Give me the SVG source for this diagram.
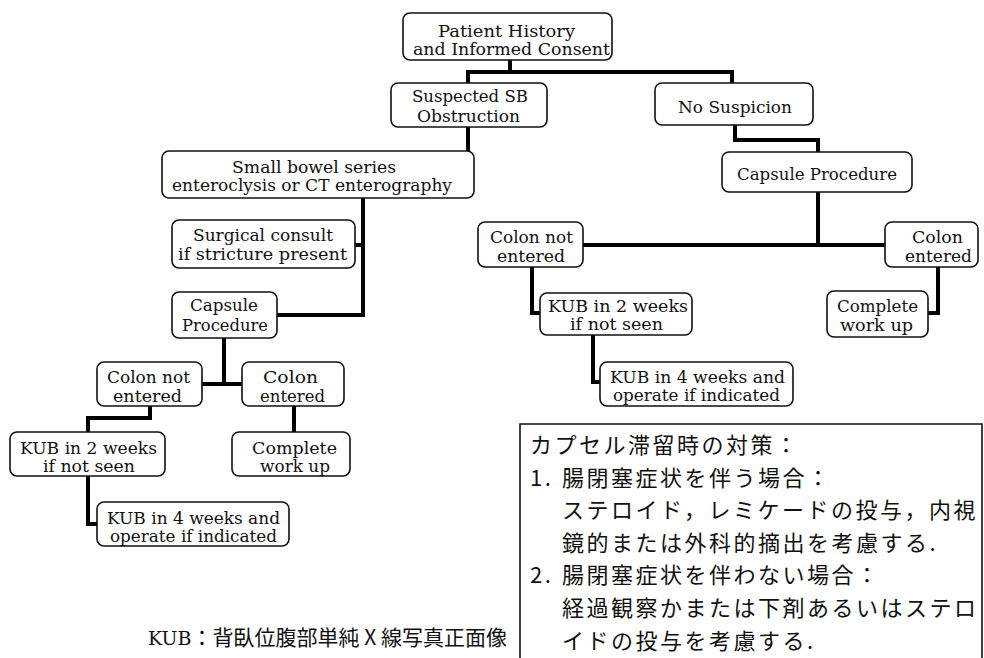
<svg xmlns="http://www.w3.org/2000/svg" width="984" height="658" viewBox="0 0 984 658">
<style>
.box{fill:#fff;stroke:#111;stroke-width:1.6}
.t{font-family:"DejaVu Serif","Liberation Serif",serif;font-size:17px;fill:#111;text-anchor:middle}
.conn{fill:none;stroke:#000;stroke-width:4;stroke-linejoin:miter;stroke-linecap:square}
.note{fill:none;stroke:#111;stroke-width:1.6}
.jp{font-family:"Noto Sans CJK JP","Noto Sans CJK SC",sans-serif;font-size:22px;letter-spacing:2.5px;fill:#111}
.kub{font-family:"Noto Sans CJK JP","Noto Sans CJK SC",sans-serif;font-size:21px;fill:#111}
</style>
<g id="connectors">
<path class="conn" d="M510,60 V72 M468,83 V72 H732 V83"/>
<path class="conn" d="M468,127 V151"/>
<path class="conn" d="M363,198 V315 H277 M355,245 H363"/>
<path class="conn" d="M735,125 V140 H818 V152"/>
<path class="conn" d="M818,192 V245 M583,245 H885"/>
<path class="conn" d="M532,267 V313 H540"/>
<path class="conn" d="M593,335 V382 H600"/>
<path class="conn" d="M938,267 V313 H928"/>
<path class="conn" d="M224,338 V384 M202,384 H242"/>
<path class="conn" d="M150,406 V418 H88 V432"/>
<path class="conn" d="M88,476 V524 H97"/>
<path class="conn" d="M294,406 V432"/>
</g>
<g id="patient">
<rect class="box" x="403" y="13" width="209" height="47" rx="7"/>
<text class="t" x="506.5" y="37" textLength="137" lengthAdjust="spacingAndGlyphs">Patient History</text>
<text class="t" x="511.5" y="55" textLength="197" lengthAdjust="spacingAndGlyphs">and Informed Consent</text>
</g>
<g id="suspected">
<rect class="box" x="391" y="83" width="156" height="44" rx="7"/>
<text class="t" x="470" y="102" textLength="116" lengthAdjust="spacingAndGlyphs">Suspected SB</text>
<text class="t" x="468.5" y="122" textLength="103" lengthAdjust="spacingAndGlyphs">Obstruction</text>
</g>
<g id="no-suspicion">
<rect class="box" x="655" y="83" width="158" height="42" rx="7"/>
<text class="t" x="735" y="113" textLength="114" lengthAdjust="spacingAndGlyphs">No Suspicion</text>
</g>
<g id="capsule-right">
<rect class="box" x="722" y="152" width="190" height="40" rx="7"/>
<text class="t" x="817" y="180" textLength="160" lengthAdjust="spacingAndGlyphs">Capsule Procedure</text>
</g>
<g id="small-bowel">
<rect class="box" x="162" y="151" width="312" height="47" rx="7"/>
<text class="t" x="314" y="173" textLength="164" lengthAdjust="spacingAndGlyphs">Small bowel series</text>
<text class="t" x="312" y="191" textLength="280" lengthAdjust="spacingAndGlyphs">enteroclysis or CT enterography</text>
</g>
<g id="surgical">
<rect class="box" x="172" y="220" width="183" height="48" rx="7"/>
<text class="t" x="263" y="241" textLength="140" lengthAdjust="spacingAndGlyphs">Surgical consult</text>
<text class="t" x="262.5" y="260" textLength="169" lengthAdjust="spacingAndGlyphs">if stricture present</text>
</g>
<g id="capsule-left">
<rect class="box" x="172" y="292" width="105" height="46" rx="7"/>
<text class="t" x="224" y="311" textLength="68" lengthAdjust="spacingAndGlyphs">Capsule</text>
<text class="t" x="225" y="331" textLength="86" lengthAdjust="spacingAndGlyphs">Procedure</text>
</g>
<g id="colon-not-left">
<rect class="box" x="97" y="362" width="105" height="44" rx="7"/>
<text class="t" x="148.5" y="383" textLength="83" lengthAdjust="spacingAndGlyphs">Colon not</text>
<text class="t" x="147.5" y="402" textLength="69" lengthAdjust="spacingAndGlyphs">entered</text>
</g>
<g id="colon-entered-left">
<rect class="box" x="242" y="362" width="102" height="44" rx="7"/>
<text class="t" x="290.5" y="383" textLength="55" lengthAdjust="spacingAndGlyphs">Colon</text>
<text class="t" x="292.5" y="402" textLength="65" lengthAdjust="spacingAndGlyphs">entered</text>
</g>
<g id="kub2-left">
<rect class="box" x="10" y="432" width="155" height="44" rx="7"/>
<text class="t" x="88.5" y="454" textLength="137" lengthAdjust="spacingAndGlyphs">KUB in 2 weeks</text>
<text class="t" x="89" y="472" textLength="92" lengthAdjust="spacingAndGlyphs">if not seen</text>
</g>
<g id="complete-left">
<rect class="box" x="232" y="432" width="118" height="44" rx="7"/>
<text class="t" x="294.5" y="454" textLength="85" lengthAdjust="spacingAndGlyphs">Complete</text>
<text class="t" x="295" y="472" textLength="70" lengthAdjust="spacingAndGlyphs">work up</text>
</g>
<g id="kub4-left">
<rect class="box" x="97" y="502" width="192" height="44" rx="7"/>
<text class="t" x="193.5" y="524" textLength="173" lengthAdjust="spacingAndGlyphs">KUB in 4 weeks and</text>
<text class="t" x="193.5" y="542" textLength="167" lengthAdjust="spacingAndGlyphs">operate if indicated</text>
</g>
<g id="colon-not-right">
<rect class="box" x="478" y="222" width="105" height="45" rx="7"/>
<text class="t" x="531.5" y="243" textLength="83" lengthAdjust="spacingAndGlyphs">Colon not</text>
<text class="t" x="531" y="262" textLength="68" lengthAdjust="spacingAndGlyphs">entered</text>
</g>
<g id="colon-entered-right">
<rect class="box" x="885" y="222" width="93" height="45" rx="7"/>
<text class="t" x="937.5" y="243" textLength="51" lengthAdjust="spacingAndGlyphs">Colon</text>
<text class="t" x="938.5" y="262" textLength="67" lengthAdjust="spacingAndGlyphs">entered</text>
</g>
<g id="kub2-right">
<rect class="box" x="540" y="293" width="152" height="42" rx="7"/>
<text class="t" x="618" y="312" textLength="140" lengthAdjust="spacingAndGlyphs">KUB in 2 weeks</text>
<text class="t" x="616.5" y="330" textLength="93" lengthAdjust="spacingAndGlyphs">if not seen</text>
</g>
<g id="complete-right">
<rect class="box" x="827" y="291" width="101" height="46" rx="7"/>
<text class="t" x="877.5" y="312" textLength="81" lengthAdjust="spacingAndGlyphs">Complete</text>
<text class="t" x="876.5" y="331" textLength="73" lengthAdjust="spacingAndGlyphs">work up</text>
</g>
<g id="kub4-right">
<rect class="box" x="600" y="362" width="193" height="44" rx="7"/>
<text class="t" x="697.5" y="383" textLength="175" lengthAdjust="spacingAndGlyphs">KUB in 4 weeks and</text>
<text class="t" x="696.5" y="401" textLength="167" lengthAdjust="spacingAndGlyphs">operate if indicated</text>
</g>
<g id="note">
<path class="note" d="M520,658 V424 H982 V658"/>
<text class="jp" x="530" y="453">カプセル滞留時の対策：</text>
<text class="jp" x="530" y="486">1.<tspan x="562">腸閉塞症状を伴う場合：</tspan></text>
<text class="jp" x="562" y="518">ステロイド，レミケードの投与，内視</text>
<text class="jp" x="562" y="551">鏡的または外科的摘出を考慮する.</text>
<text class="jp" x="530" y="583">2.<tspan x="562">腸閉塞症状を伴わない場合：</tspan></text>
<text class="jp" x="562" y="616">経過観察かまたは下剤あるいはステロ</text>
<text class="jp" x="562" y="649">イドの投与を考慮する.</text>
</g>
<g id="legend">
<text class="kub" x="148" y="645"><tspan font-family="DejaVu Serif, serif" font-size="19">KUB</tspan>：背臥位腹部単純 X 線写真正面像</text>
</g>
</svg>
